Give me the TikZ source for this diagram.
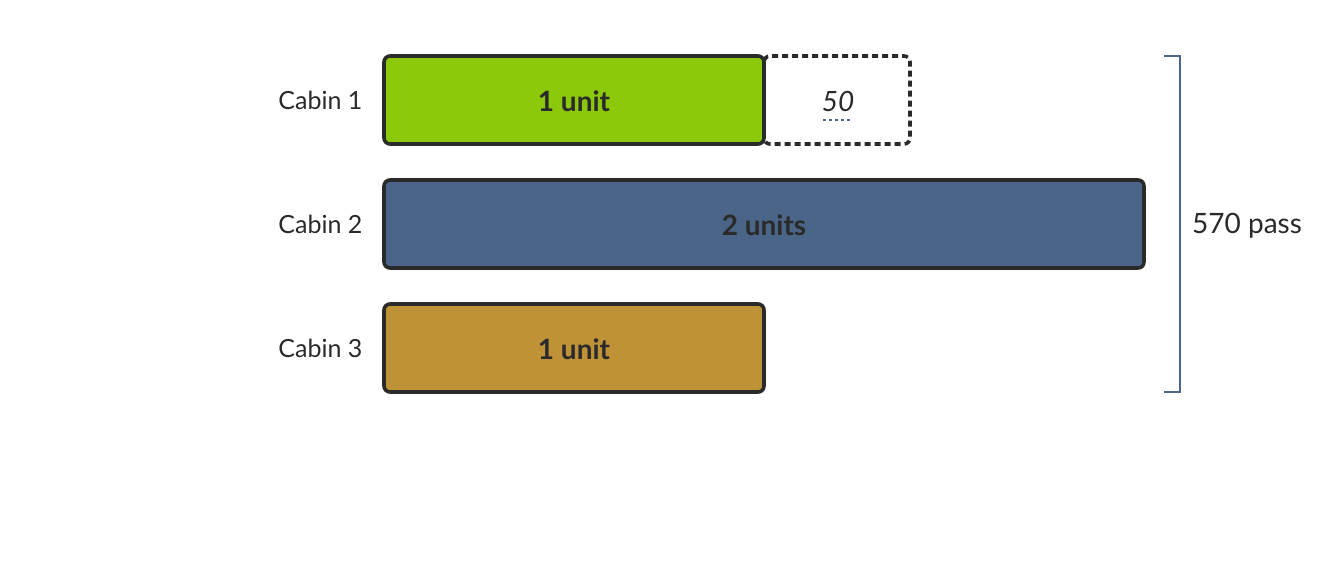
\documentclass[tikz,border=0pt]{standalone}
\usepackage{fontspec}
\setmainfont{Lato}
\definecolor{cgreen}{HTML}{8CC90A}
\definecolor{cblue}{HTML}{4A6588}
\definecolor{cgold}{HTML}{BF9238}
\definecolor{cdark}{HTML}{2A2A2A}
\definecolor{cbrack}{HTML}{4C6690}
\tikzset{
  bar/.style={draw=cdark, line width=3.6pt, rounded corners=6pt},
  lbl/.style={anchor=east, text=cdark, font=\fontsize{25}{28}\selectfont},
  inlbl/.style={text=cdark, font=\fontsize{28}{32}\selectfont\bfseries},
}
\begin{document}
\begin{tikzpicture}[x=1pt,y=-1pt]
\useasboundingbox (0,0) rectangle (1328,568);
\fill[white] (0,0) rectangle (1328,568);
% bars
\draw[bar, fill=cgreen] (384,56) rectangle (764,144);
\draw[bar, dash pattern=on 6pt off 4pt] (764,56) rectangle (910,144);
\draw[bar, fill=cblue] (384,180) rectangle (1144,268);
\draw[bar, fill=cgold] (384,304) rectangle (764,392);
\node[inlbl] (u1) at (574,101) {1 unit};
\node[inlbl] (u2) at (764,225) {2 units};
\node[inlbl] (u3) at (574,349) {1 unit};
\node[text=cdark, font=\fontsize{28}{32}\selectfont\itshape] (fifty) at (838,101) {50};
\draw[cbrack, line width=2.5pt, dash pattern=on 3pt off 3pt] (823,120) -- (851,120);
% labels
\node[lbl] (c1) at (366,100) {Cabin 1};
\node[lbl] (c2) at (366,224) {Cabin 2};
\node[lbl] (c3) at (366,348) {Cabin 3};
% bracket
\draw[cbrack, line width=2.5pt] (1164,56) -- (1180,56) -- (1180,392) -- (1164,392);
\node[anchor=west, text=cdark, font=\fontsize{28}{32}\selectfont, inner sep=0pt] (tot) at (1192,226) {570 pass};
\end{tikzpicture}
\end{document}
